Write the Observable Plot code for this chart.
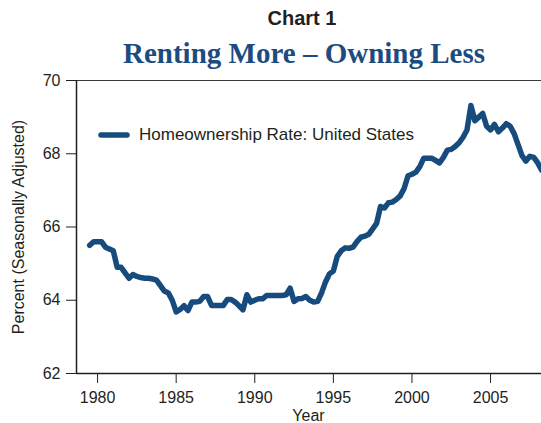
<!DOCTYPE html>
<html>
<head>
<meta charset="utf-8">
<script src="https://cdn.jsdelivr.net/npm/d3@7"></script>
<script src="https://cdn.jsdelivr.net/npm/@observablehq/plot@0.6"></script>
<style>
  html, body { margin: 0; padding: 0; background: #fff; }
  #wrap { position: relative; width: 541px; height: 423px; overflow: hidden; font-family: "Liberation Sans", Arial, sans-serif; }
  .abs { position: absolute; white-space: nowrap; }
</style>
</head>
<body>
<div id="wrap">
  <div class="abs" id="chartno" style="left:0;width:604px;top:6px;text-align:center;font-weight:bold;font-size:20px;line-height:24px;color:#231f20;">Chart 1</div>
  <div class="abs" id="title" style="left:0;width:608px;top:37px;text-align:center;font-family:'Liberation Serif',serif;font-weight:bold;font-size:29px;line-height:32px;color:#1d4b80;">Renting More – Owning Less</div>
  <div id="plot" class="abs" style="left:0;top:70px;"></div>
  <div class="abs" id="ylabel" style="left:19px;top:227px;transform:translate(-50%,-50%) rotate(-90deg);font-size:16px;color:#231f20;">Percent (Seasonally Adjusted)</div>
  <div class="abs" id="xlabel" style="left:0;width:617px;top:407px;text-align:center;font-size:16px;line-height:18px;color:#231f20;">Year</div>
  <div class="abs" id="legend" style="left:98px;top:126px;font-size:17px;line-height:18px;color:#231f20;display:flex;align-items:center;">
    <svg width="32" height="10" style="margin-right:9px;"><line x1="3" y1="5" x2="29" y2="5" stroke="#174b7e" stroke-width="5.5" stroke-linecap="round"/></svg>
    <span id="legendText"></span>
  </div>
</div>
<script>
// ---- data ----
const seriesName = "Homeownership Rate: United States";
const firstQuarter = 1979.5; // 1979 Q3, quarterly observations
const rate = [
  65.5, 65.6, 65.6, 65.6, 65.45, 65.4, 65.35, 64.9, 64.9, 64.75,
  64.6, 64.7, 64.65, 64.62, 64.6, 64.6, 64.58, 64.55, 64.4, 64.25,
  64.2, 64.0, 63.68, 63.75, 63.85, 63.72, 63.95, 63.95, 63.97, 64.1,
  64.1, 63.86, 63.86, 63.86, 63.86, 64.02, 64.02, 63.95, 63.85, 63.74,
  64.15, 63.95, 64.0, 64.04, 64.04, 64.13, 64.13, 64.13, 64.13, 64.13,
  64.15, 64.33, 63.97, 64.04, 64.05, 64.1, 64.0, 63.95, 63.97, 64.2,
  64.5, 64.72, 64.8, 65.2, 65.35, 65.43, 65.42, 65.45, 65.6, 65.72,
  65.75, 65.8, 65.95, 66.1, 66.56, 66.52, 66.66, 66.68, 66.75, 66.85,
  67.05, 67.4, 67.44, 67.5, 67.65, 67.88, 67.88, 67.88, 67.82, 67.75,
  67.9, 68.1, 68.12, 68.2, 68.3, 68.45, 68.65, 69.32, 68.9, 69.0,
  69.1, 68.75, 68.65, 68.8, 68.6, 68.7, 68.82, 68.75, 68.55, 68.25,
  67.95, 67.8, 67.93, 67.9, 67.75, 67.55
];
const xTicks = [1980, 1985, 1990, 1995, 2000, 2005];
const yTicks = [62, 64, 66, 68, 70];
const xDomain = [1978.66, 2008.24];
const yDomain = [62, 70];

const lineColor = "#174b7e";
const data = rate.map((v, i) => ({t: firstQuarter + i / 4, v}));

document.getElementById("legendText").textContent = seriesName;

const chart = Plot.plot({
  width: 541,
  height: 353,
  marginLeft: 76,
  marginRight: 0,
  marginTop: 10,
  marginBottom: 50,
  style: {fontFamily: "'Liberation Sans', Arial, sans-serif", fontSize: "16px", color: "#231f20", background: "#fff"},
  x: {domain: xDomain, ticks: xTicks, tickFormat: d => String(d), label: null, tickSize: 10, tickPadding: 8},
  y: {domain: yDomain, ticks: yTicks, label: null, tickSize: 10, tickPadding: 6},
  marks: [
    Plot.ruleY([yDomain[1]], {stroke: "#3a3a3a", strokeWidth: 1.2}),
    Plot.ruleY([yDomain[0]], {stroke: "#231f20", strokeWidth: 1.5}),
    Plot.ruleX([xDomain[0]], {stroke: "#231f20", strokeWidth: 1.5}),
    Plot.line(data, {x: "t", y: "v", stroke: lineColor, strokeWidth: 5.5, strokeLinejoin: "round", strokeLinecap: "round", clip: true})
  ]
});
document.getElementById("plot").appendChild(chart);
</script>
</body>
</html>
